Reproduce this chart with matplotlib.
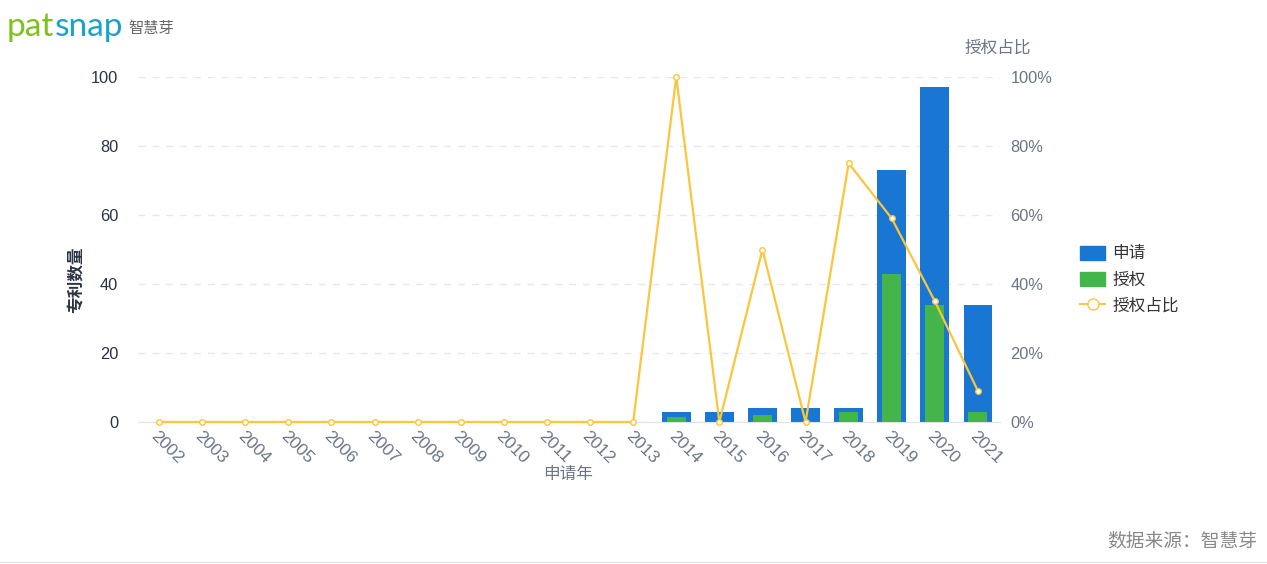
import numpy as np
import matplotlib.pyplot as plt
from matplotlib.lines import Line2D
from matplotlib.patches import Patch

plt.rcParams['font.family'] = ['Noto Sans CJK SC', 'DejaVu Sans']

# 数据
years = [str(y) for y in range(2002, 2022)]
applied = [0, 0, 0, 0, 0, 0, 0, 0, 0, 0, 0, 0, 3, 3, 4, 4, 4, 73, 97, 34]
granted = [0, 0, 0, 0, 0, 0, 0, 0, 0, 0, 0, 0, 1.5, 0, 2, 0, 3, 43, 34, 3]
ratio = [0, 0, 0, 0, 0, 0, 0, 0, 0, 0, 0, 0, 100, 0, 50, 0, 75, 59, 35, 9]

blue = '#1976d2'
green = '#43b54a'
yellow = '#fbc53c'
num_font = ['Liberation Sans', 'DejaVu Sans']

fig = plt.figure(figsize=(12.67, 5.64), dpi=100)
ax = fig.add_axes([137.5 / 1267, 1 - 422 / 564, 862 / 1267, 345 / 564])
x = np.arange(len(years))

ax.bar(x, applied, width=0.67, color=blue, zorder=2)
ax.bar(x, granted, width=0.44, color=green, zorder=3)
ax.set_xlim(-0.5, len(years) - 0.5)
ax.set_ylim(0, 100)
ax.set_yticks([0, 20, 40, 60, 80, 100])
ax.grid(axis='y', color='#e6e8eb', linestyle=(0, (5, 5)), linewidth=1)
ax.set_axisbelow(True)
for s in ['top', 'right', 'left']:
    ax.spines[s].set_visible(False)
ax.spines['bottom'].set_color('#e0e3e8')
ax.tick_params(axis='y', length=0, pad=14, labelsize=11.8, labelcolor='#2b3345')
ax.tick_params(axis='x', length=0, pad=5, labelsize=12.5, labelcolor='#6b7585')
ax.set_xticks(x)
ax.set_xticklabels(years, rotation=-45, ha='left', va='top', rotation_mode='anchor')
for lab in ax.get_xticklabels() + ax.get_yticklabels():
    lab.set_family(num_font)

ax2 = ax.twinx()
ax2.plot(x, ratio, color=yellow, linewidth=1.6, marker='o', markersize=4,
         markerfacecolor='white', markeredgecolor=yellow, markeredgewidth=1,
         zorder=4, clip_on=False)
ax2.set_ylim(0, 100)
ax2.set_yticks([0, 20, 40, 60, 80, 100])
ax2.set_yticklabels(['0%', '20%', '40%', '60%', '80%', '100%'])
for s in ['top', 'right', 'left', 'bottom']:
    ax2.spines[s].set_visible(False)
ax2.tick_params(axis='y', length=0, pad=8, labelsize=11.8, labelcolor='#6b7585')
for lab in ax2.get_yticklabels():
    lab.set_family(num_font)

fig.text(77 / 1267, 1 - 280 / 564, '专利数量', rotation=90, ha='center', va='center',
         fontsize=12, color='#2b3345', fontweight='bold')
fig.text(568 / 1267, 1 - 474 / 564, '申请年', ha='center', va='center',
         fontsize=12, color='#6b7585')
fig.text(998 / 1267, 1 - 48 / 564, '授权占比', ha='center', va='center',
         fontsize=12, color='#6b7585')

# logo
t1 = fig.text(7 / 1267, 1 - 36 / 564, 'pat', fontsize=24, color='#7cc21d', ha='left',
              va='baseline', family=['Lato', 'DejaVu Sans'])
fig.canvas.draw()
bb = t1.get_window_extent()
fig.text(bb.x1 / 1267, 1 - 36 / 564, 'snap', fontsize=24, color='#1aa3c8', ha='left',
         va='baseline', family=['Lato', 'DejaVu Sans'])
fig.text(128 / 1267, 1 - 29 / 564, '智慧芽', fontsize=11, color='#666666', ha='left', va='center')

fig.text(1257 / 1267, 1 - 541 / 564, '数据来源：智慧芽', fontsize=13.5, color='#888888',
         ha='right', va='center')
fig.add_artist(Line2D([0, 1], [1 - 562 / 564, 1 - 562 / 564], color='#e6e6e6', linewidth=1))

handles = [Patch(facecolor=blue, edgecolor=blue), Patch(facecolor=green, edgecolor=green),
           Line2D([0], [0], color=yellow, marker='o', markersize=8, markerfacecolor='white',
                  markeredgecolor=yellow, linewidth=1.4)]
fig.legend(handles, ['申请', '授权', '授权占比'], loc='center left',
           bbox_to_anchor=(1065 / 1267, 1 - 280 / 564), frameon=False, fontsize=12,
           handlelength=1.5, handleheight=0.9, labelspacing=0.55, handletextpad=0.45,
           labelcolor='#333333')

fig.savefig('out.png', dpi=100)
